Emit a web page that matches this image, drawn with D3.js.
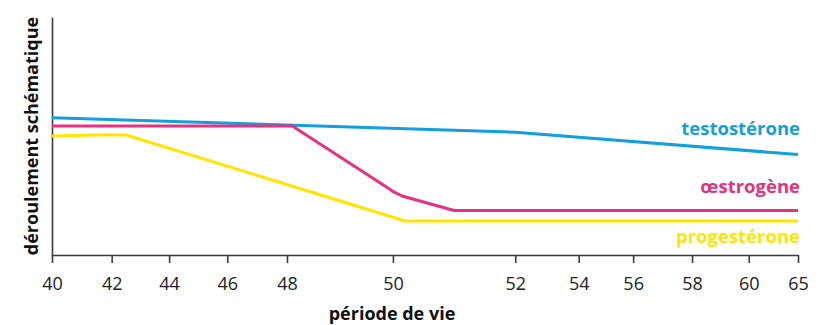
<!DOCTYPE html>
<html><head><meta charset="utf-8">
<script src="https://cdn.jsdelivr.net/npm/d3@7"></script>
<style>body{margin:0;background:#fff}svg{display:block}text{font-family:"Open Sans",sans-serif}</style>
</head><body><svg id="c" width="820" height="325"></svg>
<script>
(function(){
// ---- data ----
const tickValues = [40,42,44,46,48,50,52,54,56,58,60,65];
const seriesNames = ["testostérone","œstrogène","progestérone"];
const testosterone = [[40,57.7],[52,51.6],[65,42.2]];
const oestrogene = [[40,54.2],[48.1,54.2],[49.9,28.3],[50.0,26.7],[50.15,24.8],[51,18.7],[65,18.7]];
const progesterone = [[40,50],[41.8,50.5],[42.5,50.4],[50.2,14.3],[65,14.3]];
const xTitle = "période de vie";
const yTitle = "déroulement schématique";

// ---- layout ----
const mLeft=52, mRight=798, mTop=17, mBottom=255;
const colors = {"testostérone":"#139fdd","œstrogène":"#e6327f","progestérone":"#ffe500"};
// irregular axis spacing of the original (fraction of axis width per tick)
const tickFrac = [0,0.080,0.157,0.235,0.315,0.457,0.621,0.706,0.779,0.858,0.934,1];
const x = d3.scaleLinear().domain(tickValues).range(tickFrac.map(f=>mLeft+f*(mRight-mLeft)));
const y = d3.scaleLinear().domain([0,100]).range([mBottom,mTop]);

const svg = d3.select("#c");
const axisColor="#3a3a3a";

// x axis
const xa = svg.append("g").attr("transform",`translate(0,${mBottom})`)
  .call(d3.axisBottom(x).tickValues(tickValues).tickFormat(d3.format("d")).tickSizeInner(8).tickSizeOuter(0).tickPadding(14));
xa.select(".domain").attr("stroke",axisColor).attr("stroke-width",1.6);
xa.selectAll(".tick line").attr("stroke",axisColor).attr("stroke-width",1.6);
xa.selectAll(".tick text").attr("fill","#222").style("font-size","18px").style("font-family","'Open Sans',sans-serif");

// y axis
const ya = svg.append("g").attr("transform",`translate(${mLeft},0)`)
  .call(d3.axisLeft(y).tickValues([]).tickSizeOuter(0));
ya.select(".domain").attr("stroke",axisColor).attr("stroke-width",1.6);

// lines
const line = d3.line().x(d=>x(d[0])).y(d=>y(d[1]));
const series = [
  {name:seriesNames[2], data:progesterone, dy:22.5},
  {name:seriesNames[0], data:testosterone, dy:-19.5},
  {name:seriesNames[1], data:oestrogene, dy:-17.5}
];
svg.append("g").selectAll("path").data(series).join("path")
  .attr("d",d=>line(d.data)).attr("fill","none")
  .attr("stroke",d=>colors[d.name]).attr("stroke-width",3).attr("stroke-linejoin","round");

// labels
svg.append("g").selectAll("text").data(series).join("text")
  .attr("x",800).attr("y",d=>y(d.data[d.data.length-1][1])+d.dy)
  .attr("text-anchor","end").attr("fill",d=>colors[d.name])
  .style("font-size","18.5px").style("font-weight","bold").text(d=>d.name);

// titles
svg.append("text").attr("x",392).attr("y",320).attr("text-anchor","middle")
  .style("font-size","18px").style("font-weight","bold").attr("fill","#111").text(xTitle);
svg.append("text").attr("transform",`translate(38,136) rotate(-90)`).attr("text-anchor","middle")
  .style("font-size","18px").style("font-weight","bold").attr("fill","#111").text(yTitle);
})();
</script></body></html>
